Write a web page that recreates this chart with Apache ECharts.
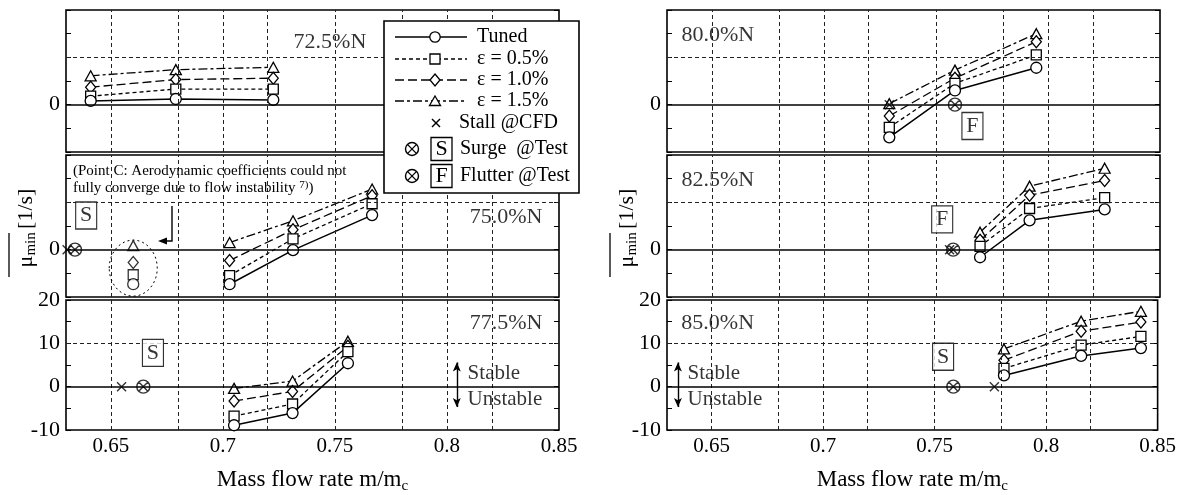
<!DOCTYPE html>
<html><head><meta charset="utf-8">
<script src="https://cdn.jsdelivr.net/npm/echarts@6/dist/echarts.min.js"></script>
<style>html,body{margin:0;padding:0;background:#fff}#c{width:1179px;height:495px}</style>
</head><body><div id="c"></div>
<script>
// ---------------- data ----------------
const xTickLabels = [0.65, 0.7, 0.75, 0.8, 0.85];
const xGridLines = [0.65, 0.675, 0.7, 0.725, 0.75, 0.775, 0.8, 0.825];
const seriesNames = ['Tuned', 'ε = 0.5%', 'ε = 1.0%', 'ε = 1.5%'];
const speedLabels = ['72.5%N', '75.0%N', '77.5%N', '80.0%N', '82.5%N', '85.0%N'];

// 72.5%N
const x72 = [0.641, 0.679, 0.7225];
const tuned72 = [0.8, 1.2, 1.0];
const e05_72 = [1.8, 3.3, 3.3];
const e10_72 = [3.7, 5.3, 5.6];
const e15_72 = [6.1, 7.4, 7.9];

// 75.0%N
const x75 = [0.703, 0.7313, 0.7666];
const tuned75 = [-7.3, -0.1, 7.3];
const e05_75 = [-5.5, 2.3, 9.7];
const e10_75 = [-2.3, 4.2, 11.4];
const e15_75 = [1.5, 6.1, 12.8];
// Point C (not converged, not connected)
const xPointC = [0.66];
const tunedC = [-7.3];
const e05C = [-5.3];
const e10C = [-2.7];
const e15C = [0.85];
const stall75 = [0.6305];
const surge75 = [0.634];

// 77.5%N
const x77 = [0.705, 0.7311, 0.7558];
const tuned77 = [-8.9, -6.1, 5.4];
const e05_77 = [-6.8, -4.0, 8.1];
const e10_77 = [-3.3, -1.1, 9.3];
const e15_77 = [-0.4, 1.3, 10.5];
const stall77 = [0.6548];
const surge77 = [0.6645];

// 80.0%N
const x80 = [0.7292, 0.7585, 0.7948];
const tuned80 = [-6.9, 3.0, 7.8];
const e05_80 = [-4.8, 4.5, 10.5];
const e10_80 = [-2.4, 5.6, 13.3];
const e15_80 = [0.2, 7.3, 15.0];
const stall80 = [0.7292];
const flutter80 = [0.7585];

// 82.5%N
const x82 = [0.7697, 0.7918, 0.8253];
const tuned82 = [-1.6, 6.2, 8.5];
const e05_82 = [0.7, 8.7, 11.0];
const e10_82 = [2.0, 11.5, 14.6];
const e15_82 = [3.7, 13.4, 17.2];
const stall82 = [0.7561];
const flutter82 = [0.7577];

// 85.0%N
const x85 = [0.7811, 0.8157, 0.8425];
const tuned85 = [2.6, 7.1, 8.9];
const e05_85 = [4.2, 9.6, 11.6];
const e10_85 = [6.1, 12.8, 14.9];
const e15_85 = [8.7, 15.1, 17.4];
const stall85 = [0.7768];
const surge85 = [0.7584];

// ---------------- layout / style ----------------
const FONT = '"Liberation Serif", "Times New Roman", serif';
const INK = '#000';
const gridPos = [
  { left: 66, top: 10 }, { left: 66, top: 155 }, { left: 66, top: 300 },
  { left: 667, top: 10 }, { left: 667, top: 155 }, { left: 667, top: 300 }
];
const GW = 493, GH = 142;

const variants = [
  { symbol: 'circle', size: 11, dash: 'solid', lw: 1.5 },
  { symbol: 'rect', size: 10, dash: [4, 3], lw: 1.3 },
  { symbol: 'diamond', size: [10, 12], dash: [9, 4], lw: 1.3 },
  { symbol: 'triangle', size: [11, 10], dash: [9, 3, 3, 3], lw: 1.3 }
];
const OTIMES = 'path://M0,-10A10,10,0,1,1,0,10A10,10,0,1,1,0,-10ZM-7.07,-7.07L7.07,7.07M7.07,-7.07L-7.07,7.07';
const CROSS = 'path://M-5,-5L5,5M5,-5L-5,5';

const panels = [
  { ys: [tuned72, e05_72, e10_72, e15_72], x: x72, label: [0.7478, 13.1, 'inside'], stall: [], test: [], box: null },
  { ys: [tuned75, e05_75, e10_75, e15_75], x: x75, label: [0.8428, 6.8, 'left'], stall: stall75, test: surge75, box: [0.639, 7.2, 'S'],
    pointC: [tunedC, e05C, e10C, e15C] },
  { ys: [tuned77, e05_77, e10_77, e15_77], x: x77, label: [0.8428, 14.6, 'left'], stall: stall77, test: surge77, box: [0.6688, 7.8, 'S'],
    stable: [0.8044, 0.809] },
  { ys: [tuned80, e05_80, e10_80, e15_80], x: x80, label: [0.6362, 14.7, 'right'], stall: stall80, test: flutter80, box: [0.7663, -4.5, 'F'] },
  { ys: [tuned82, e05_82, e10_82, e15_82], x: x82, label: [0.6362, 14.7, 'right'], stall: stall82, test: flutter82, box: [0.7528, 6.4, 'F'] },
  { ys: [tuned85, e05_85, e10_85, e15_85], x: x85, label: [0.6362, 14.6, 'right'], stall: stall85, test: surge85, box: [0.7538, 6.9, 'S'],
    stable: [0.6349, 0.639] }
];

const grid = [], xAxis = [], yAxis = [], series = [];
panels.forEach((p, i) => {
  const bottom = (i % 3) === 2;
  grid.push({ left: gridPos[i].left, top: gridPos[i].top, width: GW, height: GH, show: true,
    borderColor: INK, borderWidth: 1.6, backgroundColor: 'transparent' });
  xAxis.push({
    type: 'value', gridIndex: i, min: 0.63, max: 0.85,
    axisLine: { show: false }, axisTick: { show: false }, splitLine: { show: false },
    axisLabel: bottom ? { show: true, customValues: xTickLabels, margin: 6,
      formatter: v => String(Math.round(v * 100) / 100), fontFamily: FONT, fontSize: 21, color: INK } : { show: false },
    name: bottom ? '{a|Mass flow rate m/m}{s|c}' : '', nameLocation: 'middle', nameGap: 36,
    nameTextStyle: { rich: {
      a: { fontFamily: FONT, fontSize: 23, color: INK, lineHeight: 28 },
      s: { fontFamily: FONT, fontSize: 15, color: INK, verticalAlign: 'bottom' } } }
  });
  const shown = bottom ? [-10, 0, 10, 20] : [0];
  yAxis.push({
    type: 'value', gridIndex: i, min: -10, max: 20, interval: 5, position: 'left',
    axisLine: { show: false }, splitLine: { show: false },
    axisTick: { show: true, inside: true, length: 5, lineStyle: { color: INK, width: 1 } },
    axisLabel: { margin: 6, fontFamily: FONT, fontSize: 22, color: INK,
      formatter: v => shown.indexOf(v) >= 0 ? String(v) : '' }
  });
  yAxis.push({
    type: 'value', gridIndex: i, min: -10, max: 20, interval: 5, position: 'right',
    axisLine: { show: false }, splitLine: { show: false }, axisLabel: { show: false },
    axisTick: { show: true, inside: true, length: 5, lineStyle: { color: INK, width: 1 } }
  });
  const yi = 2 * i;
  // reference lines
  series.push({
    type: 'line', xAxisIndex: i, yAxisIndex: yi, data: [], z: 1, silent: true,
    markLine: { silent: true, symbol: ['none', 'none'], label: { show: false }, animation: false,
      data: xGridLines.map(v => ({ xAxis: v, lineStyle: { type: [4, 3], color: '#222', width: 1 } }))
        .concat([{ yAxis: 10, lineStyle: { type: [4, 3], color: '#222', width: 1 } },
                 { yAxis: 0, lineStyle: { type: 'solid', color: INK, width: 1.5 } }]) }
  });
  // variant lines (draw 1.5% first, tuned last)
  for (let k = 3; k >= 0; k--) {
    const v = variants[k];
    series.push({
      type: 'line', name: seriesNames[k], xAxisIndex: i, yAxisIndex: yi, z: 3,
      data: p.x.map((x, j) => [x, p.ys[k][j]]),
      symbol: v.symbol, symbolSize: v.size, showAllSymbol: true,
      itemStyle: { color: '#fff', borderColor: INK, borderWidth: 1.3 },
      lineStyle: { color: INK, width: v.lw, type: v.dash }, emphasis: { disabled: true }
    });
    if (p.pointC) {
      series.push({
        type: 'scatter', xAxisIndex: i, yAxisIndex: yi, z: 3,
        data: xPointC.map((x, j) => [x, p.pointC[k][j]]),
        symbol: v.symbol, symbolSize: v.size,
        itemStyle: { color: '#fff', borderColor: INK, borderWidth: 1.3 }
      });
    }
  }
  // stall @CFD
  if (p.stall.length) series.push({
    type: 'scatter', xAxisIndex: i, yAxisIndex: yi, z: 6, data: p.stall.map(x => [x, 0]),
    symbol: CROSS, symbolSize: 9, itemStyle: { color: 'rgba(0,0,0,0)', borderColor: INK, borderWidth: 1.4 }
  });
  // surge / flutter @Test
  if (p.test.length) series.push({
    type: 'scatter', xAxisIndex: i, yAxisIndex: yi, z: 6, data: p.test.map(x => [x, 0]),
    symbol: OTIMES, symbolSize: 13, itemStyle: { color: 'rgba(0,0,0,0)', borderColor: INK, borderWidth: 1.4 }
  });
  // S / F boxes
  if (p.box) series.push({
    type: 'scatter', xAxisIndex: i, yAxisIndex: yi, z: 6, data: [p.box],
    symbol: 'rect', symbolSize: [21, 27], itemStyle: { color: '#fff', borderColor: INK, borderWidth: 1.3 },
    label: { show: true, position: 'inside', formatter: q => q.value[2], fontFamily: FONT, fontSize: 22, color: INK }
  });
  // speed label
  series.push({
    type: 'scatter', xAxisIndex: i, yAxisIndex: yi, z: 6, silent: true,
    data: [[p.label[0], p.label[1], speedLabels[i]]], symbolSize: 1, itemStyle: { color: 'rgba(0,0,0,0)' },
    label: { show: true, position: p.label[2], distance: 0, formatter: q => q.value[2], fontFamily: FONT, fontSize: 22, color: INK }
  });
  // Stable / Unstable
  if (p.stable) {
    series.push({
      type: 'scatter', xAxisIndex: i, yAxisIndex: yi, z: 6, silent: true,
      data: [[p.stable[1], 3.0, 'Stable'], [p.stable[1], -3.0, 'Unstable']], symbolSize: 1,
      itemStyle: { color: 'rgba(0,0,0,0)' },
      label: { show: true, position: 'right', distance: 0, formatter: q => q.value[2], fontFamily: FONT, fontSize: 21, color: INK },
      markLine: { silent: true, symbol: ['arrow', 'arrow'], symbolSize: [6, 9], label: { show: false }, animation: false,
        lineStyle: { color: INK, width: 1.4, type: 'solid' },
        data: [[{ coord: [p.stable[0], -4.7] }, { coord: [p.stable[0], 5.6] }]] }
    });
  }
});

// legend + annotations (graphic)
function legendElements() {
  const els = [];
  els.push({ type: 'rect', shape: { x: 384, y: 21, width: 195, height: 172 },
    style: { fill: '#fff', stroke: INK, lineWidth: 1.6 }, z: 100 });
  const rows = [37, 59, 80, 101];
  const mx = 435;
  rows.forEach((y, k) => {
    const v = variants[k];
    els.push({ type: 'line', shape: { x1: 395, y1: y, x2: 467, y2: y },
      style: { stroke: INK, lineWidth: v.lw, lineDash: v.dash === 'solid' ? null : v.dash }, z: 101 });
    let m;
    if (k === 0) m = { type: 'circle', shape: { cx: mx, cy: y, r: 5.2 } };
    else if (k === 1) m = { type: 'rect', shape: { x: mx - 5, y: y - 5, width: 10, height: 10 } };
    else if (k === 2) m = { type: 'polygon', shape: { points: [[mx, y - 6], [mx + 5, y], [mx, y + 6], [mx - 5, y]] } };
    else m = { type: 'polygon', shape: { points: [[mx, y - 5], [mx + 5.5, y + 4.5], [mx - 5.5, y + 4.5]] } };
    m.style = { fill: '#fff', stroke: INK, lineWidth: 1.3 }; m.z = 102;
    els.push(m);
    els.push({ type: 'text', x: 477, y: y, z: 102,
      style: { text: seriesNames[k], font: '20px ' + FONT, fill: INK, verticalAlign: 'middle', align: 'left' } });
  });
  // stall
  els.push({ type: 'polyline', shape: { points: [[432, 119], [440, 127]] }, style: { stroke: INK, lineWidth: 1.4 }, z: 102 });
  els.push({ type: 'polyline', shape: { points: [[440, 119], [432, 127]] }, style: { stroke: INK, lineWidth: 1.4 }, z: 102 });
  els.push({ type: 'text', x: 459, y: 123, z: 102,
    style: { text: 'Stall @CFD', font: '20px ' + FONT, fill: INK, verticalAlign: 'middle', align: 'left' } });
  [[149, 'S', 'Surge  @Test'], [176, 'F', 'Flutter @Test']].forEach(([y, ch, t]) => {
    els.push({ type: 'circle', shape: { cx: 412, cy: y, r: 6.5 }, style: { fill: 'none', stroke: INK, lineWidth: 1.4 }, z: 102 });
    els.push({ type: 'polyline', shape: { points: [[407.4, y - 4.6], [416.6, y + 4.6]] }, style: { stroke: INK, lineWidth: 1.3 }, z: 102 });
    els.push({ type: 'polyline', shape: { points: [[416.6, y - 4.6], [407.4, y + 4.6]] }, style: { stroke: INK, lineWidth: 1.3 }, z: 102 });
    els.push({ type: 'rect', shape: { x: 431, y: y - 11.5, width: 21, height: 23 }, style: { fill: '#fff', stroke: INK, lineWidth: 1.3 }, z: 102 });
    els.push({ type: 'text', x: 441.5, y: y, z: 103,
      style: { text: ch, font: '22px ' + FONT, fill: INK, verticalAlign: 'middle', align: 'center' } });
    els.push({ type: 'text', x: 460, y: y, z: 102,
      style: { text: t, font: '20px ' + FONT, fill: INK, verticalAlign: 'middle', align: 'left' } });
  });
  return els;
}

function yTitle(cx) {
  return {
    type: 'group', x: cx, y: 228, rotation: Math.PI / 2, z: 50,
    children: [
      { type: 'text', x: 0, y: 0, style: {
        text: '{m|μ}{s|min} {m|[1/s]}', align: 'center', verticalAlign: 'middle',
        rich: { m: { font: '22px ' + FONT, fill: INK, lineHeight: 26 },
                s: { font: '15px ' + FONT, fill: INK, verticalAlign: 'bottom' } } } },
      { type: 'line', shape: { x1: -49, y1: -17, x2: -5, y2: -17 }, style: { stroke: INK, lineWidth: 1.3 } }
    ]
  };
}

const chart = echarts.init(document.getElementById('c'), null, { renderer: 'canvas' });
chart.setOption({ animation: false, backgroundColor: '#fff', grid, xAxis, yAxis, series });

const ce = chart.convertToPixel({ gridIndex: 1 }, [0.66, -3.9]);
const graphicEls = legendElements().concat([
  yTitle(26), yTitle(627),
  { type: 'ellipse', shape: { cx: ce[0], cy: ce[1], rx: 24, ry: 28 }, style: { fill: 'none', stroke: INK, lineWidth: 1, lineDash: [2, 3] }, z: 20 },
  { type: 'polyline', shape: { points: [[172, 206], [172, 241], [165, 241]] }, style: { stroke: INK, lineWidth: 1.4 }, z: 20 },
  { type: 'polygon', shape: { points: [[158, 241], [167, 237.5], [167, 244.5]] }, style: { fill: INK }, z: 20 },
  { type: 'text', x: 73, y: 163, z: 20, style: {
    text: '{n|(Point C: Aerodynamic coefficients could not}\n{n|fully converge due to flow instability }{p|7)}{n|)}',
    align: 'left', verticalAlign: 'top',
    rich: { n: { font: '15px ' + FONT, fill: INK, lineHeight: 17 }, p: { font: '11px ' + FONT, fill: INK, verticalAlign: 'top', lineHeight: 17 } } } }
]);
chart.setOption({ graphic: { elements: graphicEls } });
</script></body></html>
